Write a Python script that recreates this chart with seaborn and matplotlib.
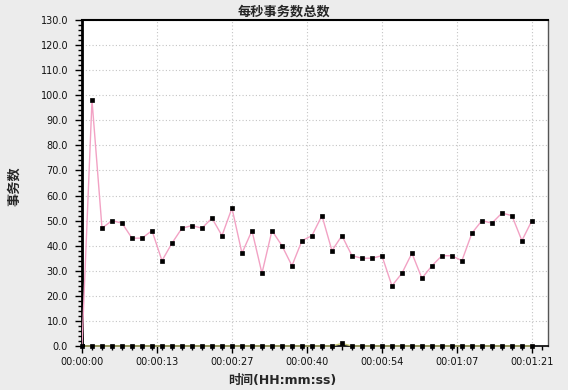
import matplotlib
matplotlib.use("Agg")
import matplotlib.pyplot as plt
from matplotlib.ticker import MultipleLocator, FixedLocator
import seaborn as sns
import pandas as pd

# ---- data ----
times_s = [0.0, 1.8, 3.6, 5.4, 7.2, 9.0, 10.8, 12.6, 14.4, 16.2, 18.0, 19.8,
           21.6, 23.4, 25.2, 27.0, 28.8, 30.6, 32.4, 34.2, 36.0, 37.8, 39.6,
           41.4, 43.2, 45.0, 46.8, 48.6, 50.4, 52.2, 54.0, 55.8, 57.6, 59.4,
           61.2, 63.0, 64.8, 66.6, 68.4, 70.2, 72.0, 73.8, 75.6, 77.4, 79.2, 81.0]
tps_pass = [0, 98, 47, 50, 49, 43, 43, 46, 34, 41, 47, 48, 47, 51, 44, 55,
            37, 46, 29, 46, 40, 32, 42, 44, 52, 38, 44, 36, 35, 35, 36, 24,
            29, 37, 27, 32, 36, 36, 34, 45, 50, 49, 53, 52, 42, 50]
tps_fail = [0, 0, 0, 0, 0, 0, 0, 0, 0, 0, 0, 0, 0, 0, 0, 0, 0, 0, 0, 0, 0, 0,
            0, 0, 0, 0, 1, 0, 0, 0, 0, 0, 0, 0, 0, 0, 0, 0, 0, 0, 0, 0, 0, 0, 0, 0]
xtick_pos = [0, 13.5, 27, 40.5, 54, 67.5, 81]
xtick_labels = ["00:00:00", "00:00:13", "00:00:27", "00:00:40",
                "00:00:54", "00:01:07", "00:01:21"]
title = "每秒事务数总数"
xlabel = "时间(HH:mm:ss)"
ylabel = "事务数"

df = pd.DataFrame({"t": times_s, "pass": tps_pass, "fail": tps_fail})

sns.set_theme(style="white")
plt.rcParams["font.family"] = ["DejaVu Sans", "Noto Sans CJK SC"]

fig = plt.figure(figsize=(5.68, 3.90), dpi=100)
fig.patch.set_facecolor("#ECECEC")
ax = fig.add_axes([82/568, 44/390, 466/568, 326/390])
ax.set_facecolor("white")

sns.lineplot(data=df, x="t", y="fail", ax=ax, color="#C8C878", linewidth=1.0,
             marker="s", markersize=2.2, markerfacecolor="black",
             markeredgecolor="black", markeredgewidth=0.5, clip_on=False, zorder=3)
sns.lineplot(data=df, x="t", y="pass", ax=ax, color="#F2A2C4", linewidth=1.0,
             marker="s", markersize=2.2, markerfacecolor="black",
             markeredgecolor="black", markeredgewidth=0.5, zorder=4)

ax.set_xlim(0, 83.9)
ax.set_ylim(0, 130)
ax.xaxis.set_major_locator(FixedLocator(xtick_pos))
ax.set_xticklabels(xtick_labels)
ax.xaxis.set_minor_locator(MultipleLocator(1.8))
ax.yaxis.set_major_locator(MultipleLocator(10))
ax.yaxis.set_minor_locator(MultipleLocator(2))
ax.set_yticklabels([f"{v:.1f}" for v in ax.get_yticks()])
ax.set_ylim(0, 130)

ax.grid(True, which="major", color="#C4C4C4", linestyle=(0, (1, 2)), linewidth=0.8)
ax.tick_params(axis="both", which="major", direction="out", length=5, width=1,
               labelsize=7, colors="black", labelcolor="#111111")
ax.tick_params(axis="y", which="major", pad=5)
ax.tick_params(axis="x", which="major", pad=3)
ax.tick_params(axis="both", which="minor", direction="out", length=3, width=1,
               colors="black")
ax.tick_params(axis="both", which="both", bottom=True, left=True)

for side in ["left", "bottom", "top"]:
    ax.spines[side].set_color("black")
ax.spines["left"].set_linewidth(2)
ax.spines["bottom"].set_linewidth(1.2)
ax.spines["top"].set_linewidth(1.5)
ax.spines["right"].set_color("#555555")
ax.spines["right"].set_linewidth(1)

ax.set_xlabel(xlabel, fontsize=9, fontweight="bold",
              family=["DejaVu Sans", "Noto Sans CJK SC"], va="center")
ax.xaxis.set_label_coords((282.5 - 82) / 466, (346 - 380) / 326)
ax.set_ylabel(ylabel, fontsize=9.5, fontweight="bold",
              family=["Noto Sans CJK SC", "DejaVu Sans"], va="center")
ax.yaxis.set_label_coords((14 - 82) / 466, (346 - 186) / 326)
fig.text(0.5, 1 - 12/390, title, ha="center", va="center", fontsize=9.5,
         fontweight="bold", family=["Noto Sans CJK SC", "DejaVu Sans"])

fig.savefig("out.png", dpi=100, facecolor=fig.get_facecolor())
